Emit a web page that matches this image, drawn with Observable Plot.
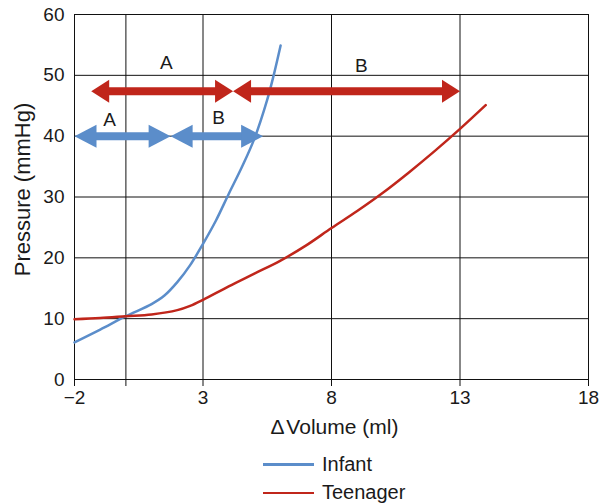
<!DOCTYPE html>
<html><head><meta charset="utf-8">
<script src="https://cdn.jsdelivr.net/npm/d3@7"></script>
<script src="https://cdn.jsdelivr.net/npm/@observablehq/plot@0.6"></script>
<style>
body{margin:0;background:#fff;font-family:"Liberation Sans",Arial,sans-serif;}
#legend{margin-left:263px;}
.row{height:28.5px;display:flex;align-items:center;font-size:20px;color:#1a1a1a;}
.sw{width:51px;height:2.5px;margin-right:8px;}
</style></head><body><div id="chart"></div><div id="legend"></div>
<script>
// ---- data ----
const infantVolume   = [-2, -1, 0, 1, 1.5, 2, 2.5, 3, 3.5, 4, 4.5, 5, 5.5, 5.75, 6.02];
const infantPressure = [6.1, 8.2, 10.4, 12.4, 13.8, 16.0, 18.8, 22.3, 26.1, 30.5, 34.8, 39.6, 46.0, 50.0, 54.9];
const teenVolume     = [-2, -1, 0, 1, 2, 2.5, 3, 4, 5, 6, 7, 8, 9, 10, 11, 12, 13, 14];
const teenPressure   = [9.9, 10.1, 10.4, 10.7, 11.4, 12.1, 13.1, 15.3, 17.4, 19.5, 22.0, 24.9, 27.7, 30.7, 34.0, 37.5, 41.2, 45.1];

const arrowSeries = ["Teenager", "Teenager", "Infant", "Infant"];
const arrowStart  = [-1.35, 4.17, -2, 1.74];
const arrowEnd    = [4.17, 13, 1.74, 5.34];
const arrowLevel  = [47.4, 47.4, 40, 40];
const arrowLabel  = ["A", "B", "A", "B"];
const labelX      = [1.57, 9.16, -0.63, 3.61];
const labelY      = [52.1, 51.6, 42.7, 43.0];

const xGrid  = [-2, 0, 3, 8, 13, 18];
const yTicks = [0, 10, 20, 30, 40, 50, 60];
const seriesNames = ["Infant", "Teenager"];
const xTitle = "\u0394\u200AVolume (ml)";
const yTitle = "Pressure (mmHg)";

// ---- styles ----
const blue = "#5b8dca", red = "#c0261b";
const seriesColors = {Infant: blue, Teenager: red};

const infant = infantVolume.map((v, i) => ({v, p: infantPressure[i]}));
const teen = teenVolume.map((v, i) => ({v, p: teenPressure[i]}));
const arrows = arrowStart.map((s, i) => ({
  series: arrowSeries[i], x1: s, x2: arrowEnd[i], y: arrowLevel[i],
  label: arrowLabel[i], lx: labelX[i], ly: labelY[i]
}));

function head(len, half, dir) {
  return {draw(ctx) { ctx.moveTo(0, 0); ctx.lineTo(-dir * len, -half); ctx.lineTo(-dir * len, half); ctx.closePath(); }};
}
const headLen = {Infant: 22, Teenager: 18};

const arrowMarks = [];
for (const s of seriesNames) {
  const data = arrows.filter(d => d.series === s);
  const c = seriesColors[s], L = headLen[s];
  arrowMarks.push(
    Plot.ruleY(data, {x1: "x1", x2: "x2", y: "y", stroke: c, strokeWidth: 8, insetLeft: L - 2, insetRight: L - 2}),
    Plot.dot(data, {x: "x1", y: "y", symbol: head(L, 11.5, -1), r: 5, fill: c, stroke: "none"}),
    Plot.dot(data, {x: "x2", y: "y", symbol: head(L, 11.5, 1), r: 5, fill: c, stroke: "none"})
  );
}

const fmt = d => d === 0 ? "" : (d < 0 ? "\u2212" + (-d) : String(d));

const chart = Plot.plot({
  width: 605, height: 450,
  marginLeft: 74, marginRight: 17, marginTop: 14, marginBottom: 71,
  style: {fontFamily: "Liberation Sans, Arial, sans-serif", fontSize: "19px", color: "#1a1a1a", background: "#fff"},
  x: {domain: [-2, 18]},
  y: {domain: [0, 60]},
  marks: [
    Plot.ruleX(xGrid, {stroke: "#111", strokeWidth: 1}),
    Plot.ruleY(yTicks, {stroke: "#111", strokeWidth: 1}),
    Plot.axisX({ticks: xGrid, tickSize: 7, tickPadding: 4, tickFormat: fmt, label: null, stroke: "#111"}),
    Plot.axisY({ticks: yTicks, tickSize: 0, tickPadding: 10, label: null}),
    Plot.line(infant, {x: "v", y: "p", stroke: blue, strokeWidth: 2.5, curve: "catmull-rom"}),
    Plot.line(teen, {x: "v", y: "p", stroke: red, strokeWidth: 2.5, curve: "catmull-rom"}),
    ...arrowMarks,
    Plot.text(arrows, {x: "lx", y: "ly", text: "label", fontSize: 19}),
    Plot.text([xTitle], {frameAnchor: "bottom", textAnchor: "middle", lineAnchor: "middle", dy: 48, dx: 3, text: d => d, fontSize: 21}),
    Plot.text([yTitle], {frameAnchor: "left", textAnchor: "middle", lineAnchor: "middle", dx: -52, dy: -7.5, rotate: -90, text: d => d, fontSize: 22})
  ]
});
document.getElementById("chart").appendChild(chart);

const legend = document.getElementById("legend");
for (const s of seriesNames) {
  const row = document.createElement("div");
  row.className = "row";
  const sw = document.createElement("span");
  sw.className = "sw";
  sw.style.background = seriesColors[s];
  const t = document.createElement("span");
  t.textContent = s;
  row.appendChild(sw); row.appendChild(t);
  legend.appendChild(row);
}
</script></body></html>
